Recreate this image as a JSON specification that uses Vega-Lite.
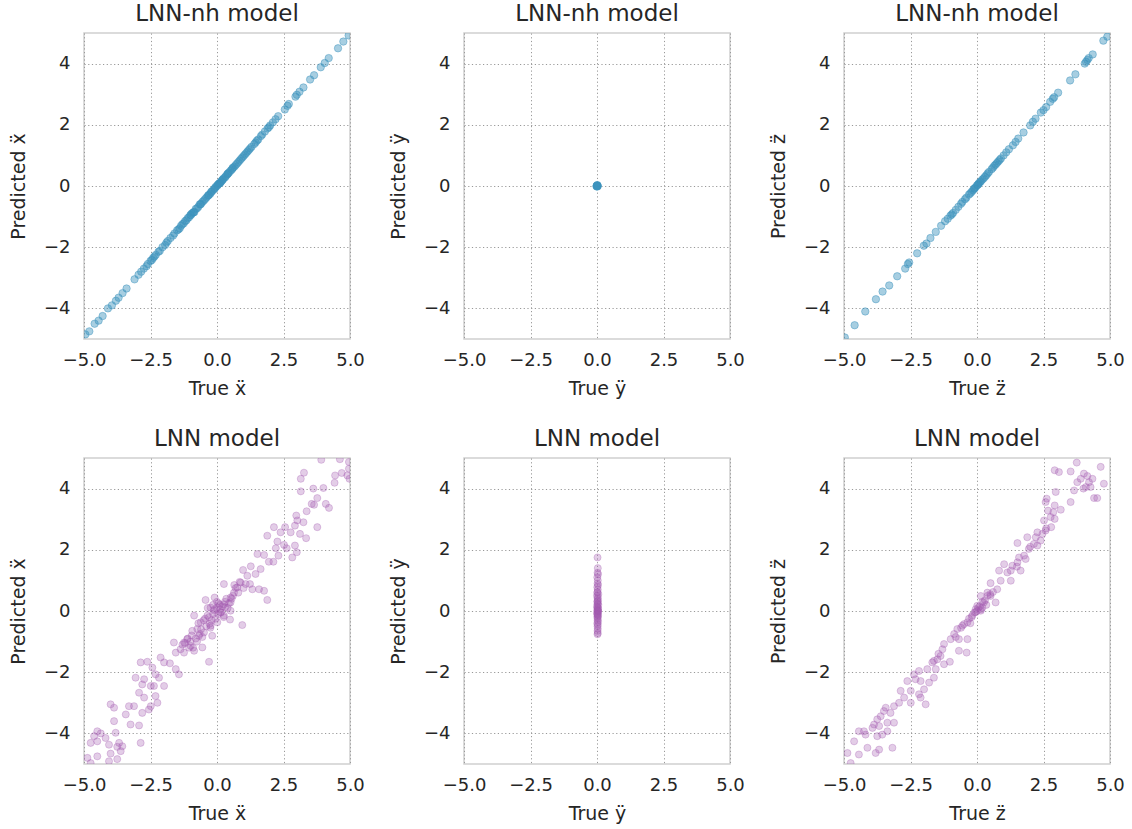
{
  "$schema": "https://vega.github.io/schema/vega-lite/v6.json",
  "padding": {"left": 8, "top": 2, "right": 5, "bottom": 5},
  "background": "white",
  "bounds": "flush",
  "columns": 3,
  "spacing": {"row": 119, "column": 114},
  "datasets": {
    "nh_x": [
      {"true": -4.95, "pred": -4.85}, {"true": -4.8, "pred": -4.75}, {"true": -4.6, "pred": -4.5}, {"true": -4.45, "pred": -4.4}, {"true": -4.3, "pred": -4.25}, {"true": -4.1, "pred": -4.0}, {"true": -3.95, "pred": -3.9}, {"true": -3.8, "pred": -3.75}, {"true": -3.7, "pred": -3.65}, {"true": -3.55, "pred": -3.5}, {"true": -3.4, "pred": -3.35}, {"true": -3.1, "pred": -3.05}, {"true": -2.95, "pred": -2.9}, {"true": -2.85, "pred": -2.8}, {"true": -2.6, "pred": -2.55}, {"true": -2.5, "pred": -2.45}, {"true": -2.4, "pred": -2.35}, {"true": -2.3, "pred": -2.25}, {"true": -2.2, "pred": -2.15}, {"true": -2.05, "pred": -2.0}, {"true": -1.9, "pred": -1.85}, {"true": -1.75, "pred": -1.7}, {"true": -1.6, "pred": -1.55}, {"true": -1.5, "pred": -1.45}, {"true": -1.35, "pred": -1.3}, {"true": -1.3, "pred": -1.25}, {"true": -1.2, "pred": -1.15}, {"true": -1.1, "pred": -1.05}, {"true": -1.0, "pred": -0.95}, {"true": -0.95, "pred": -0.9}, {"true": -0.85, "pred": -0.85}, {"true": -0.8, "pred": -0.75}, {"true": -0.7, "pred": -0.68}, {"true": -0.65, "pred": -0.6}, {"true": -0.55, "pred": -0.52}, {"true": -0.5, "pred": -0.48}, {"true": -0.4, "pred": -0.38}, {"true": -0.35, "pred": -0.33}, {"true": -0.25, "pred": -0.25}, {"true": -0.2, "pred": -0.18}, {"true": -0.1, "pred": -0.1}, {"true": -0.05, "pred": -0.03}, {"true": 0.0, "pred": 0.0}, {"true": 0.05, "pred": 0.06}, {"true": 0.12, "pred": 0.1}, {"true": 0.18, "pred": 0.17}, {"true": 0.25, "pred": 0.25}, {"true": 0.3, "pred": 0.28}, {"true": 0.38, "pred": 0.37}, {"true": 0.45, "pred": 0.44}, {"true": 0.55, "pred": 0.53}, {"true": 0.6, "pred": 0.6}, {"true": 0.7, "pred": 0.68}, {"true": 0.8, "pred": 0.78}, {"true": 0.9, "pred": 0.88}, {"true": 1.0, "pred": 0.98}, {"true": 1.1, "pred": 1.08}, {"true": 1.2, "pred": 1.18}, {"true": 1.3, "pred": 1.28}, {"true": 1.45, "pred": 1.42}, {"true": 1.55, "pred": 1.52}, {"true": 1.7, "pred": 1.68}, {"true": 1.8, "pred": 1.78}, {"true": 1.95, "pred": 1.92}, {"true": 2.1, "pred": 2.08}, {"true": 2.3, "pred": 2.28}, {"true": 2.55, "pred": 2.5}, {"true": 2.7, "pred": 2.68}, {"true": 2.95, "pred": 2.92}, {"true": 3.1, "pred": 3.08}, {"true": 3.25, "pred": 3.22}, {"true": 3.5, "pred": 3.48}, {"true": 3.65, "pred": 3.62}, {"true": 3.9, "pred": 3.88}, {"true": 4.05, "pred": 4.02}, {"true": 4.2, "pred": 4.18}, {"true": 4.55, "pred": 4.5}, {"true": 4.75, "pred": 4.72}, {"true": 4.95, "pred": 4.92},
      {"true": -0.3, "pred": -0.29}, {"true": -0.6, "pred": -0.58}, {"true": -0.9, "pred": -0.87}, {"true": 0.2, "pred": 0.2}, {"true": 0.4, "pred": 0.4}, {"true": 0.65, "pred": 0.63}, {"true": -1.15, "pred": -1.12}, {"true": -0.15, "pred": -0.14}, {"true": 0.1, "pred": 0.09},
      {"true": -2.75, "pred": -2.7}, {"true": -2.65, "pred": -2.62}, {"true": -2.45, "pred": -2.42}, {"true": -2.35, "pred": -2.3}, {"true": -2.15, "pred": -2.12}, {"true": -1.95, "pred": -1.93}, {"true": -1.85, "pred": -1.8}, {"true": -1.65, "pred": -1.62}, {"true": -1.45, "pred": -1.42}, {"true": -1.4, "pred": -1.38}, {"true": -1.25, "pred": -1.22}, {"true": -1.05, "pred": -1.02}, {"true": -0.98, "pred": -0.95}, {"true": -0.88, "pred": -0.86}, {"true": -0.75, "pred": -0.73}, {"true": -0.62, "pred": -0.6}, {"true": -0.45, "pred": -0.43}, {"true": -0.32, "pred": -0.3}, {"true": -0.22, "pred": -0.2}, {"true": -0.08, "pred": -0.07}, {"true": 0.02, "pred": 0.03}, {"true": 0.08, "pred": 0.08}, {"true": 0.15, "pred": 0.14}, {"true": 0.22, "pred": 0.21}, {"true": 0.33, "pred": 0.32}, {"true": 0.42, "pred": 0.41}, {"true": 0.5, "pred": 0.49}, {"true": 0.58, "pred": 0.57}, {"true": 0.75, "pred": 0.73}, {"true": 0.85, "pred": 0.83}, {"true": 0.95, "pred": 0.93}, {"true": 1.05, "pred": 1.03}, {"true": 1.15, "pred": 1.13}, {"true": 1.25, "pred": 1.23}, {"true": 1.4, "pred": 1.37}, {"true": 1.5, "pred": 1.48}, {"true": 1.65, "pred": 1.63}, {"true": 1.9, "pred": 1.88}, {"true": 2.0, "pred": 1.98}, {"true": 2.2, "pred": 2.18}, {"true": 2.65, "pred": 2.62}, {"true": 3.0, "pred": 2.98}
    ],
    "nh_y": [
      {"true": 0.0, "pred": 0.0}, {"true": 0.02, "pred": 0.01}, {"true": -0.01, "pred": 0.0}, {"true": 0.01, "pred": -0.02}, {"true": 0.0, "pred": 0.02}, {"true": 0.03, "pred": 0.0}, {"true": -0.02, "pred": -0.01}, {"true": 0.01, "pred": 0.03}
    ],
    "nh_z": [
      {"true": -4.97, "pred": -4.95}, {"true": -4.6, "pred": -4.55}, {"true": -4.2, "pred": -4.1}, {"true": -3.8, "pred": -3.7}, {"true": -3.55, "pred": -3.45}, {"true": -3.3, "pred": -3.25}, {"true": -3.0, "pred": -2.95}, {"true": -2.7, "pred": -2.7}, {"true": -2.55, "pred": -2.5}, {"true": -2.25, "pred": -2.2}, {"true": -2.0, "pred": -1.95}, {"true": -1.75, "pred": -1.7}, {"true": -1.55, "pred": -1.5}, {"true": -1.35, "pred": -1.3}, {"true": -1.2, "pred": -1.15}, {"true": -1.0, "pred": -0.97}, {"true": -0.9, "pred": -0.88}, {"true": -0.7, "pred": -0.68}, {"true": -0.55, "pred": -0.52}, {"true": -0.4, "pred": -0.38}, {"true": -0.3, "pred": -0.28}, {"true": -0.15, "pred": -0.14}, {"true": -0.05, "pred": -0.04}, {"true": 0.0, "pred": 0.02}, {"true": 0.08, "pred": 0.1}, {"true": 0.15, "pred": 0.16}, {"true": 0.25, "pred": 0.25}, {"true": 0.35, "pred": 0.35}, {"true": 0.45, "pred": 0.46}, {"true": 0.6, "pred": 0.6}, {"true": 0.75, "pred": 0.75}, {"true": 0.85, "pred": 0.85}, {"true": 1.0, "pred": 1.0}, {"true": 1.2, "pred": 1.2}, {"true": 1.35, "pred": 1.33}, {"true": 1.55, "pred": 1.55}, {"true": 1.75, "pred": 1.75}, {"true": 2.0, "pred": 1.98}, {"true": 2.2, "pred": 2.2}, {"true": 2.4, "pred": 2.4}, {"true": 2.6, "pred": 2.58}, {"true": 2.75, "pred": 2.75}, {"true": 2.9, "pred": 2.9}, {"true": 3.05, "pred": 3.05}, {"true": 3.5, "pred": 3.45}, {"true": 3.7, "pred": 3.65}, {"true": 4.05, "pred": 4.0}, {"true": 4.15, "pred": 4.12}, {"true": 4.35, "pred": 4.3}, {"true": 4.75, "pred": 4.75}, {"true": 4.9, "pred": 4.88},
      {"true": -0.1, "pred": -0.08}, {"true": 0.05, "pred": 0.06}, {"true": 0.2, "pred": 0.21}, {"true": -0.2, "pred": -0.19}, {"true": 0.65, "pred": 0.66}, {"true": -0.95, "pred": -0.93}, {"true": 0.8, "pred": 0.8},
      {"true": -2.6, "pred": -2.55}, {"true": -1.9, "pred": -1.88}, {"true": -1.1, "pred": -1.07}, {"true": -0.8, "pred": -0.78}, {"true": -0.6, "pred": -0.58}, {"true": -0.45, "pred": -0.43}, {"true": -0.25, "pred": -0.24}, {"true": -0.1, "pred": -0.09}, {"true": 0.03, "pred": 0.04}, {"true": 0.12, "pred": 0.13}, {"true": 0.3, "pred": 0.3}, {"true": 0.4, "pred": 0.41}, {"true": 0.55, "pred": 0.55}, {"true": 0.7, "pred": 0.7}, {"true": 0.9, "pred": 0.9}, {"true": 1.1, "pred": 1.1}, {"true": 1.45, "pred": 1.44}, {"true": 2.1, "pred": 2.1}, {"true": 2.5, "pred": 2.48}, {"true": 2.85, "pred": 2.85}, {"true": 4.1, "pred": 4.06}, {"true": 4.2, "pred": 4.18}
    ],
    "lnn_x": [
      {"true": 3.92, "pred": 4.94}, {"true": 4.62, "pred": 4.96}, {"true": 4.96, "pred": 4.87}, {"true": 4.96, "pred": 4.65}, {"true": 3.27, "pred": 4.52}, {"true": 3.15, "pred": 4.32}, {"true": 4.69, "pred": 4.51}, {"true": 4.44, "pred": 4.43}, {"true": 4.9, "pred": 4.43}, {"true": 4.98, "pred": 4.32}, {"true": 4.42, "pred": 4.19}, {"true": 4.0, "pred": 4.02}, {"true": 3.62, "pred": 4.0}, {"true": 3.15, "pred": 3.91}, {"true": 3.77, "pred": 3.69}, {"true": 3.56, "pred": 3.5}, {"true": 3.65, "pred": 3.47}, {"true": 4.09, "pred": 3.5}, {"true": 4.21, "pred": 3.37}, {"true": 3.37, "pred": 3.26}, {"true": 2.98, "pred": 3.12}, {"true": 3.02, "pred": 2.96}, {"true": 3.25, "pred": 2.9}, {"true": 2.93, "pred": 2.79}, {"true": 3.77, "pred": 2.74}, {"true": 2.14, "pred": 2.74}, {"true": 2.56, "pred": 2.74}, {"true": 2.77, "pred": 2.57}, {"true": 3.12, "pred": 2.52}, {"true": 3.35, "pred": 2.38}, {"true": 1.89, "pred": 2.46}, {"true": 2.39, "pred": 2.57}, {"true": 2.27, "pred": 2.27}, {"true": 2.21, "pred": 2.05}, {"true": 2.52, "pred": 2.16}, {"true": 2.62, "pred": 2.05}, {"true": 2.93, "pred": 2.14}, {"true": 3.0, "pred": 1.92}, {"true": 2.83, "pred": 1.75}, {"true": 1.52, "pred": 1.86}, {"true": 1.77, "pred": 1.83}, {"true": 1.95, "pred": 1.61}, {"true": 2.12, "pred": 1.61}, {"true": 2.31, "pred": 1.81}, {"true": 1.27, "pred": 1.46}, {"true": 1.64, "pred": 1.37}, {"true": 1.45, "pred": 1.21}, {"true": 1.14, "pred": 1.15}, {"true": 0.98, "pred": 1.34}, {"true": 0.89, "pred": 0.93}, {"true": 1.08, "pred": 0.88}, {"true": 1.24, "pred": 0.88}, {"true": 1.33, "pred": 0.71}, {"true": 1.58, "pred": 0.71}, {"true": 1.77, "pred": 0.66}, {"true": 0.76, "pred": 0.77}, {"true": 0.64, "pred": 0.6}, {"true": 0.51, "pred": 0.44}, {"true": 0.26, "pred": 0.88}, {"true": -0.09, "pred": 0.44}, {"true": -0.43, "pred": 0.36}, {"true": 1.89, "pred": 0.36}, {"true": 0.26, "pred": 0.22}, {"true": 0.51, "pred": 0.28}, {"true": 0.01, "pred": 0.11}, {"true": -0.24, "pred": 0.11},
      {"true": -0.11, "pred": 0.01}, {"true": 0.14, "pred": -0.04}, {"true": 0.51, "pred": 0.01}, {"true": 0.49, "pred": -0.28}, {"true": 0.95, "pred": -0.46}, {"true": 0.26, "pred": -0.15}, {"true": -0.36, "pred": -0.15}, {"true": -0.61, "pred": -0.37}, {"true": -0.86, "pred": -0.15}, {"true": -0.74, "pred": -0.59}, {"true": -0.49, "pred": -0.7}, {"true": -0.18, "pred": -0.81}, {"true": -1.12, "pred": -0.92}, {"true": -1.24, "pred": -1.03}, {"true": -0.99, "pred": -1.14}, {"true": -1.37, "pred": -1.25}, {"true": -1.62, "pred": -1.03}, {"true": -1.55, "pred": -1.36}, {"true": -1.24, "pred": -1.36}, {"true": -0.86, "pred": -1.3}, {"true": -0.55, "pred": -1.19}, {"true": -0.3, "pred": -1.66}, {"true": -0.68, "pred": -0.81}, {"true": -0.93, "pred": -0.65}, {"true": 0.01, "pred": -0.37}, {"true": -0.24, "pred": -0.48}, {"true": -2.12, "pred": -1.52}, {"true": -2.87, "pred": -1.68}, {"true": -2.62, "pred": -1.66}, {"true": -1.99, "pred": -1.68}, {"true": -1.77, "pred": -1.71}, {"true": -2.43, "pred": -1.85}, {"true": -1.55, "pred": -1.9}, {"true": -1.43, "pred": -2.07}, {"true": -2.31, "pred": -2.07}, {"true": -2.18, "pred": -2.18}, {"true": -3.06, "pred": -2.18}, {"true": -2.74, "pred": -2.23}, {"true": -2.49, "pred": -2.45}, {"true": -2.37, "pred": -2.45}, {"true": -1.99, "pred": -2.45}, {"true": -2.81, "pred": -2.4}, {"true": -2.93, "pred": -2.67}, {"true": -2.74, "pred": -2.83}, {"true": -2.31, "pred": -2.78}, {"true": -2.24, "pred": -3.0}, {"true": -2.49, "pred": -3.11}, {"true": -2.56, "pred": -3.22}, {"true": -3.12, "pred": -3.11}, {"true": -3.31, "pred": -3.11}, {"true": -4.0, "pred": -3.05}, {"true": -3.87, "pred": -3.16}, {"true": -3.43, "pred": -3.38}, {"true": -2.81, "pred": -3.33}, {"true": -3.25, "pred": -3.71}, {"true": -2.93, "pred": -3.74}, {"true": -3.87, "pred": -3.6}, {"true": -3.81, "pred": -3.98}, {"true": -4.5, "pred": -3.93}, {"true": -4.37, "pred": -4.0}, {"true": -4.62, "pred": -4.09}, {"true": -4.19, "pred": -4.15}, {"true": -4.75, "pred": -4.31}, {"true": -4.5, "pred": -4.26}, {"true": -4.06, "pred": -4.37}, {"true": -3.68, "pred": -4.31}, {"true": -3.56, "pred": -4.42}, {"true": -3.75, "pred": -4.44}, {"true": -3.62, "pred": -4.58}, {"true": -2.87, "pred": -4.31}, {"true": -4.0, "pred": -4.66}, {"true": -4.5, "pred": -4.75}, {"true": -4.87, "pred": -4.8}, {"true": -4.75, "pred": -4.97}, {"true": -4.06, "pred": -4.91}, {"true": -3.75, "pred": -4.84},
      {"true": -0.3, "pred": -0.2}, {"true": -0.2, "pred": -0.3}, {"true": -0.1, "pred": 0.05}, {"true": 0.1, "pred": 0.2}, {"true": 0.2, "pred": 0.15}, {"true": 0.3, "pred": 0.3}, {"true": -0.4, "pred": -0.5}, {"true": -0.6, "pred": -0.6}, {"true": -0.8, "pred": -0.9}, {"true": -1.0, "pred": -1.0}, {"true": -1.1, "pred": -0.9}, {"true": 0.05, "pred": -0.1}, {"true": 0.35, "pred": 0.4}, {"true": 0.45, "pred": 0.25}, {"true": -0.5, "pred": -0.3}, {"true": -0.25, "pred": -0.55}, {"true": 0.15, "pred": -0.05}, {"true": -0.15, "pred": 0.2}, {"true": 0.6, "pred": 0.5}, {"true": 0.7, "pred": 0.75}, {"true": 0.8, "pred": 0.6}, {"true": -0.7, "pred": -0.4}, {"true": -0.9, "pred": -1.2}, {"true": -1.2, "pred": -1.05}, {"true": 0.0, "pred": 0.3}, {"true": 0.25, "pred": -0.2}, {"true": -0.35, "pred": 0.1}, {"true": -0.05, "pred": -0.25}, {"true": 0.4, "pred": 0.1}, {"true": -0.55, "pred": -0.85},
      {"true": -0.45, "pred": -0.25}, {"true": -0.65, "pred": -0.75}, {"true": -0.95, "pred": -0.8}, {"true": -1.05, "pred": -1.2}, {"true": -0.15, "pred": -0.1}, {"true": 0.12, "pred": 0.05}, {"true": 0.3, "pred": 0.12}, {"true": 0.55, "pred": 0.4}, {"true": -0.28, "pred": -0.42}, {"true": 0.05, "pred": 0.25}, {"true": -0.75, "pred": -1.0}, {"true": -1.3, "pred": -1.1}, {"true": 0.85, "pred": 0.95}, {"true": 1.0, "pred": 0.75}, {"true": 0.65, "pred": 0.85}
    ],
    "lnn_y": [
      {"true": 0.02, "pred": 1.75}, {"true": 0.03, "pred": 1.4}, {"true": 0.02, "pred": 1.25}, {"true": 0.04, "pred": 1.2}, {"true": 0.01, "pred": 1.1}, {"true": 0.03, "pred": 1.0}, {"true": 0.02, "pred": 0.9}, {"true": 0.04, "pred": 0.85}, {"true": 0.01, "pred": 0.78}, {"true": 0.03, "pred": 0.7}, {"true": 0.02, "pred": 0.62}, {"true": 0.05, "pred": 0.55}, {"true": 0.0, "pred": 0.5}, {"true": 0.03, "pred": 0.45}, {"true": 0.02, "pred": 0.4}, {"true": 0.04, "pred": 0.35}, {"true": 0.01, "pred": 0.3}, {"true": 0.03, "pred": 0.25}, {"true": 0.05, "pred": 0.2}, {"true": 0.0, "pred": 0.15}, {"true": 0.02, "pred": 0.12}, {"true": 0.04, "pred": 0.08}, {"true": 0.01, "pred": 0.05}, {"true": 0.03, "pred": 0.02}, {"true": 0.02, "pred": 0.0}, {"true": 0.05, "pred": -0.02}, {"true": 0.0, "pred": -0.05}, {"true": 0.03, "pred": -0.08}, {"true": 0.02, "pred": -0.12}, {"true": 0.04, "pred": -0.15}, {"true": 0.01, "pred": -0.2}, {"true": 0.03, "pred": -0.25}, {"true": 0.02, "pred": -0.3}, {"true": 0.04, "pred": -0.35}, {"true": 0.01, "pred": -0.4}, {"true": 0.03, "pred": -0.45}, {"true": 0.02, "pred": -0.5}, {"true": 0.03, "pred": -0.58}, {"true": 0.02, "pred": -0.65}, {"true": 0.03, "pred": -0.72}, {"true": 0.02, "pred": -0.76}, {"true": 0.03, "pred": 0.1}, {"true": 0.02, "pred": 0.22}, {"true": 0.01, "pred": -0.1}, {"true": 0.04, "pred": 0.0}, {"true": 0.02, "pred": 0.32}, {"true": 0.03, "pred": -0.18}, {"true": 0.01, "pred": 0.6}
    ],
    "lnn_z": [
      {"true": 3.75, "pred": 4.85}, {"true": 4.65, "pred": 4.71}, {"true": 2.92, "pred": 4.6}, {"true": 3.08, "pred": 4.54}, {"true": 3.52, "pred": 4.56}, {"true": 4.02, "pred": 4.49}, {"true": 4.15, "pred": 4.41}, {"true": 4.34, "pred": 4.32}, {"true": 3.9, "pred": 4.32}, {"true": 4.21, "pred": 4.21}, {"true": 4.77, "pred": 4.16}, {"true": 3.77, "pred": 4.21}, {"true": 4.09, "pred": 4.05}, {"true": 4.27, "pred": 4.05}, {"true": 4.0, "pred": 4.0}, {"true": 3.65, "pred": 3.94}, {"true": 2.96, "pred": 3.89}, {"true": 4.4, "pred": 3.69}, {"true": 4.52, "pred": 3.69}, {"true": 3.52, "pred": 3.56}, {"true": 2.62, "pred": 3.67}, {"true": 2.58, "pred": 3.56}, {"true": 2.92, "pred": 3.45}, {"true": 3.15, "pred": 3.31}, {"true": 2.67, "pred": 3.28}, {"true": 2.87, "pred": 3.23}, {"true": 2.77, "pred": 3.07}, {"true": 2.92, "pred": 3.01}, {"true": 2.52, "pred": 2.96}, {"true": 2.79, "pred": 2.74}, {"true": 2.27, "pred": 2.57}, {"true": 2.46, "pred": 2.52}, {"true": 2.58, "pred": 2.63}, {"true": 1.89, "pred": 2.41}, {"true": 2.21, "pred": 2.41}, {"true": 2.39, "pred": 2.3}, {"true": 2.14, "pred": 2.19}, {"true": 2.27, "pred": 2.14}, {"true": 1.52, "pred": 2.22}, {"true": 1.95, "pred": 2.03}, {"true": 1.77, "pred": 1.81}, {"true": 1.58, "pred": 1.75}, {"true": 1.52, "pred": 1.59}, {"true": 1.83, "pred": 1.7}, {"true": 1.33, "pred": 1.48}, {"true": 1.02, "pred": 1.53}, {"true": 1.27, "pred": 1.32}, {"true": 1.64, "pred": 1.32}, {"true": 1.14, "pred": 1.26}, {"true": 0.83, "pred": 1.32}, {"true": 0.89, "pred": 0.99}, {"true": 0.51, "pred": 0.91}, {"true": 1.27, "pred": 0.99}, {"true": 0.76, "pred": 0.71}, {"true": 0.39, "pred": 0.6}, {"true": 0.14, "pred": 0.49}, {"true": 0.51, "pred": 0.49}, {"true": 0.7, "pred": 0.28}, {"true": 0.26, "pred": 0.28}, {"true": 0.01, "pred": 0.17}, {"true": -0.05, "pred": 0.06}, {"true": 0.2, "pred": 0.11},
      {"true": -0.05, "pred": -0.04}, {"true": 0.14, "pred": 0.01}, {"true": -0.18, "pred": -0.15}, {"true": -0.36, "pred": -0.37}, {"true": -0.55, "pred": -0.48}, {"true": -0.74, "pred": -0.59}, {"true": -0.49, "pred": -0.43}, {"true": -0.86, "pred": -0.75}, {"true": -0.99, "pred": -0.92}, {"true": -0.68, "pred": -0.92}, {"true": -0.36, "pred": -0.92}, {"true": -1.24, "pred": -1.08}, {"true": -1.3, "pred": -1.25}, {"true": -0.68, "pred": -1.3}, {"true": -0.39, "pred": -1.36}, {"true": -1.37, "pred": -1.47}, {"true": -1.62, "pred": -1.63}, {"true": -1.49, "pred": -1.58}, {"true": -1.68, "pred": -1.68}, {"true": -1.02, "pred": -1.66}, {"true": -1.24, "pred": -1.74}, {"true": -2.18, "pred": -1.96}, {"true": -2.37, "pred": -2.07}, {"true": -1.87, "pred": -1.9}, {"true": -1.55, "pred": -1.9}, {"true": -2.31, "pred": -2.23}, {"true": -2.12, "pred": -2.29}, {"true": -1.62, "pred": -2.18}, {"true": -2.62, "pred": -2.29}, {"true": -1.8, "pred": -2.34}, {"true": -2.49, "pred": -2.61}, {"true": -2.87, "pred": -2.61}, {"true": -2.18, "pred": -2.72}, {"true": -1.99, "pred": -2.56}, {"true": -2.12, "pred": -2.83}, {"true": -2.74, "pred": -2.83}, {"true": -2.93, "pred": -3.0}, {"true": -2.49, "pred": -3.0}, {"true": -1.93, "pred": -3.05}, {"true": -3.12, "pred": -3.11}, {"true": -3.43, "pred": -3.16}, {"true": -3.25, "pred": -3.33}, {"true": -3.62, "pred": -3.44}, {"true": -3.5, "pred": -3.27}, {"true": -3.75, "pred": -3.54}, {"true": -3.87, "pred": -3.71}, {"true": -3.37, "pred": -3.65}, {"true": -3.12, "pred": -3.65}, {"true": -3.68, "pred": -3.76}, {"true": -3.93, "pred": -3.82}, {"true": -4.25, "pred": -3.93}, {"true": -4.44, "pred": -3.93}, {"true": -4.19, "pred": -4.04}, {"true": -3.75, "pred": -4.09}, {"true": -3.56, "pred": -4.04}, {"true": -3.37, "pred": -3.93}, {"true": -4.62, "pred": -4.26}, {"true": -4.87, "pred": -4.64}, {"true": -4.44, "pred": -4.69}, {"true": -4.12, "pred": -4.47}, {"true": -3.68, "pred": -4.53}, {"true": -3.81, "pred": -4.64}, {"true": -3.18, "pred": -4.47}, {"true": -4.75, "pred": -4.97},
      {"true": 0.05, "pred": 0.1}, {"true": 0.1, "pred": 0.15}, {"true": -0.1, "pred": -0.05}, {"true": 0.2, "pred": 0.3}, {"true": 0.3, "pred": 0.35}, {"true": -0.2, "pred": -0.2}, {"true": 0.0, "pred": 0.0}, {"true": 0.15, "pred": 0.05}, {"true": -0.3, "pred": -0.25}, {"true": 0.4, "pred": 0.5},
      {"true": 0.5, "pred": 0.55}, {"true": 0.6, "pred": 0.62}, {"true": -0.6, "pred": -0.55}, {"true": -0.8, "pred": -0.85}, {"true": 1.5, "pred": 1.45}, {"true": -1.45, "pred": -1.4}, {"true": 2.0, "pred": 2.1}, {"true": 2.6, "pred": 2.7}, {"true": 0.35, "pred": 0.2}, {"true": -0.25, "pred": -0.4}
    ]
  },
  "concat": [
    {"title": "LNN-nh model", "width": 266, "height": 306, "data": {"name": "nh_x"},
     "mark": {"type": "circle", "clip": true, "size": 55, "fill": "#3c93bd", "stroke": "#3c93bd", "strokeWidth": 1, "fillOpacity": 0.45, "strokeOpacity": 0.45},
     "encoding": {
       "x": {"field": "true", "type": "quantitative", "scale": {"domain": [-5, 5]}, "axis": {"title": "True ẍ", "values": [-5, -2.5, 0, 2.5, 5], "format": ".1f"}},
       "y": {"field": "pred", "type": "quantitative", "scale": {"domain": [-5, 5]}, "axis": {"title": "Predicted ẍ", "values": [-4, -2, 0, 2, 4], "format": "d"}}}},
    {"title": "LNN-nh model", "width": 266, "height": 306, "data": {"name": "nh_y"},
     "mark": {"type": "circle", "clip": true, "size": 55, "fill": "#3c93bd", "stroke": "#3c93bd", "strokeWidth": 1, "fillOpacity": 0.45, "strokeOpacity": 0.45},
     "encoding": {
       "x": {"field": "true", "type": "quantitative", "scale": {"domain": [-5, 5]}, "axis": {"title": "True ÿ", "values": [-5, -2.5, 0, 2.5, 5], "format": ".1f"}},
       "y": {"field": "pred", "type": "quantitative", "scale": {"domain": [-5, 5]}, "axis": {"title": "Predicted ÿ", "values": [-4, -2, 0, 2, 4], "format": "d"}}}},
    {"title": "LNN-nh model", "width": 266, "height": 306, "data": {"name": "nh_z"},
     "mark": {"type": "circle", "clip": true, "size": 55, "fill": "#3c93bd", "stroke": "#3c93bd", "strokeWidth": 1, "fillOpacity": 0.45, "strokeOpacity": 0.45},
     "encoding": {
       "x": {"field": "true", "type": "quantitative", "scale": {"domain": [-5, 5]}, "axis": {"title": "True z̈", "values": [-5, -2.5, 0, 2.5, 5], "format": ".1f"}},
       "y": {"field": "pred", "type": "quantitative", "scale": {"domain": [-5, 5]}, "axis": {"title": "Predicted z̈", "values": [-4, -2, 0, 2, 4], "format": "d"}}}},
    {"title": "LNN model", "width": 266, "height": 306, "data": {"name": "lnn_x"},
     "mark": {"type": "circle", "clip": true, "size": 50, "fill": "#a35aae", "stroke": "#a35aae", "strokeWidth": 1, "fillOpacity": 0.3, "strokeOpacity": 0.3},
     "encoding": {
       "x": {"field": "true", "type": "quantitative", "scale": {"domain": [-5, 5]}, "axis": {"title": "True ẍ", "values": [-5, -2.5, 0, 2.5, 5], "format": ".1f"}},
       "y": {"field": "pred", "type": "quantitative", "scale": {"domain": [-5, 5]}, "axis": {"title": "Predicted ẍ", "values": [-4, -2, 0, 2, 4], "format": "d"}}}},
    {"title": "LNN model", "width": 266, "height": 306, "data": {"name": "lnn_y"},
     "mark": {"type": "circle", "clip": true, "size": 50, "fill": "#a35aae", "stroke": "#a35aae", "strokeWidth": 1, "fillOpacity": 0.3, "strokeOpacity": 0.3},
     "encoding": {
       "x": {"field": "true", "type": "quantitative", "scale": {"domain": [-5, 5]}, "axis": {"title": "True ÿ", "values": [-5, -2.5, 0, 2.5, 5], "format": ".1f"}},
       "y": {"field": "pred", "type": "quantitative", "scale": {"domain": [-5, 5]}, "axis": {"title": "Predicted ÿ", "values": [-4, -2, 0, 2, 4], "format": "d"}}}},
    {"title": "LNN model", "width": 266, "height": 306, "data": {"name": "lnn_z"},
     "mark": {"type": "circle", "clip": true, "size": 50, "fill": "#a35aae", "stroke": "#a35aae", "strokeWidth": 1, "fillOpacity": 0.3, "strokeOpacity": 0.3},
     "encoding": {
       "x": {"field": "true", "type": "quantitative", "scale": {"domain": [-5, 5]}, "axis": {"title": "True z̈", "values": [-5, -2.5, 0, 2.5, 5], "format": ".1f"}},
       "y": {"field": "pred", "type": "quantitative", "scale": {"domain": [-5, 5]}, "axis": {"title": "Predicted z̈", "values": [-4, -2, 0, 2, 4], "format": "d"}}}}
  ],
  "config": {
    "font": "DejaVu Sans",
    "view": {"stroke": "#d0d0d0", "strokeWidth": 1.5},
    "axis": {"domain": false, "ticks": false, "tickSize": 0, "labelFontSize": 18, "labelColor": "#262626", "labelPadding": 12, "titleFontSize": 19, "titleFontWeight": "normal", "titleColor": "#262626", "titlePadding": 10, "gridColor": "#999999", "gridDash": [1.2, 2.5], "gridWidth": 1, "labelFlush": false},
    "axisY": {"labelPadding": 14, "titlePadding": 15},
    "title": {"fontSize": 23, "fontWeight": "normal", "color": "#262626", "offset": 7}
  }
}
